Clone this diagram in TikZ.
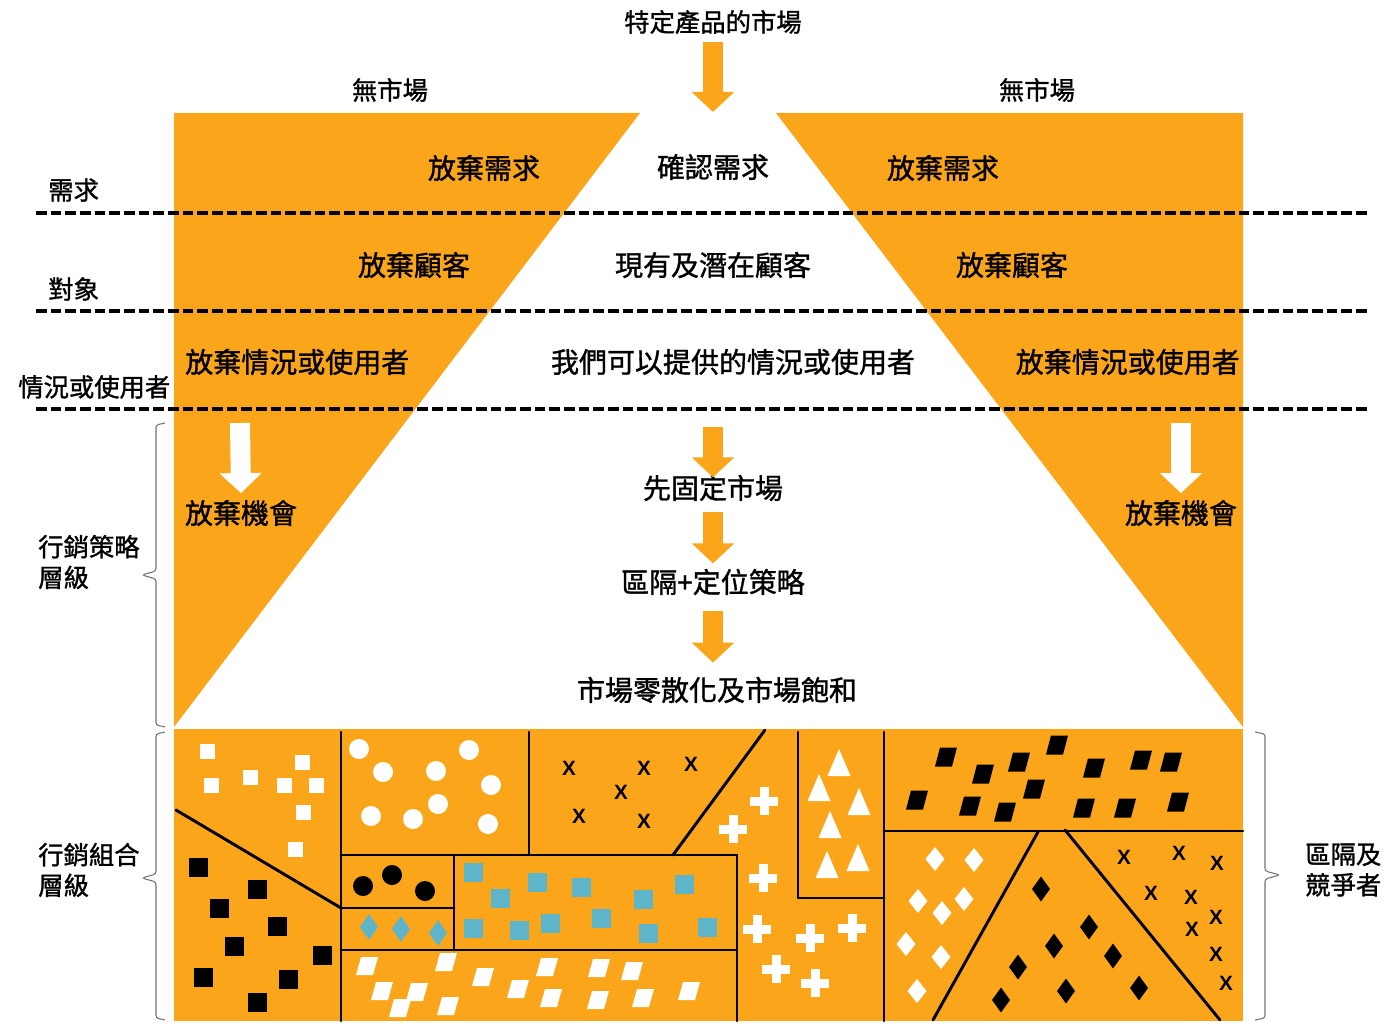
\documentclass[tikz,border=0pt]{standalone}
\usepackage{fontspec}
\setmainfont{Noto Sans CJK TC}[RawFeature={embolden=1.2}]
\newfontfamily\markfont{Liberation Sans}
\usetikzlibrary{arrows.meta,calc,positioning}
\definecolor{mkorange}{RGB}{251,166,26}
\definecolor{mkcyan}{RGB}{94,181,201}
\tikzset{lbl/.style={inner sep=0pt, font=\fontsize{21}{25}\selectfont}, side/.style={inner sep=0pt, font=\fontsize{19}{23}\selectfont, align=left}, zone/.style={fill=mkorange}, level/.style={line width=2.4pt, dash pattern=on 8pt off 3pt}, wall/.style={line width=2.2pt, line cap=round}, flow/.style={mkorange, line width=15pt, -{Triangle[width=31pt,length=15pt]}}, drop/.style={flow, white}, bracket/.style={black!55, line width=0.8pt, rounded corners=2pt}, xmark/.style={inner sep=0pt, font=\markfont\bfseries\fontsize{15.5}{15.5}\selectfont}}

\begin{document}
\begin{tikzpicture}[x=0.75pt,y=-0.75pt]
    \useasboundingbox (0,0) rectangle (1400,1024);
    % orange zones
    \fill[zone] (174,113) -- (640,113) -- (174,727) -- cycle;
    \fill[zone] (776,113) -- (1243,113) -- (1243,727) -- cycle;
    \fill[zone] (174,729) rectangle (1243,1021);
    \foreach \y in {213,311,409} \draw[level] (36,\y) -- (1368,\y);

    % top and row labels
    \node[side] (title) at (713,22) {特定產品的市場};
    \coordinate (apex) at (713,112);
    \draw[flow] ([yshift=-6pt]title.south) -- (apex);
    \node[side] (nm1) at (390,90) {無市場};
    \node[side] (nm2) at (1037,90) {無市場};
    \node[side,anchor=west] (need) at (48,190) {需求};
    \node[side,anchor=west] (who) at (48,289) {對象};
    \node[side,anchor=west] (use) at (18,387) {情況或使用者};

    \node[lbl] (dn1) at (484,168) {放棄需求};
    \node[lbl] (cn) at (713,167) {確認需求};
    \node[lbl] (dn2) at (943,168) {放棄需求};
    \node[lbl] (dc1) at (414,265) {放棄顧客};
    \node[lbl] (cc) at (713,265) {現有及潛在顧客};
    \node[lbl] (dc2) at (1012,265) {放棄顧客};
    \node[lbl,anchor=west] (du1) at (185,362) {放棄情況或使用者};
    \node[lbl] (cu) at (733,362) {我們可以提供的情況或使用者};
    \node[lbl,anchor=east] (du2) at (1240,362) {放棄情況或使用者};

    % strategy level
    \node[lbl] (do1) at (241,513) {放棄機會};
    \node[lbl] (do2) at (1181,513) {放棄機會};
    \coordinate (drop1) at (240,423);
    \coordinate (drop2) at (1181,423);
    \draw[drop] (drop1) -- ([yshift=5pt]do1.north);
    \draw[drop] (drop2) -- ([yshift=5pt]do2.north);
    \node[lbl] (fix) at (713,488) {先固定市場};
    \node[lbl] (seg) at (713,582) {區隔+定位策略};
    \node[lbl] (sat) at (717,690) {市場零散化及市場飽和};
    \coordinate (gate) at (713,427);
    \draw[flow] (gate) -- ([yshift=-2pt]fix.north);
    \draw[flow] ([yshift=-8pt]fix.south) -- ([yshift=4pt]seg.north);
    \draw[flow] ([yshift=-12pt]seg.south) -- ($(seg.south |- sat.north)+(0,-14)$);

    % braces
    \draw[bracket] (165,423) -- (156,425) -- (156,571) -- (142,575) -- (156,579) -- (156,725) -- (165,727);
    \draw[bracket] (165,732) -- (156,734) -- (156,874) -- (142,878) -- (156,882) -- (156,1018) -- (165,1020);
    \draw[bracket] (1255,732) -- (1265,734) -- (1265,871) -- (1280,875) -- (1265,879) -- (1265,1018) -- (1255,1020);
    \node[side,anchor=west] (strat) at (38,562) {行銷策略\\層級};
    \node[side,anchor=west] (mix) at (38,870) {行銷組合\\層級};
    \node[side,anchor=west] (rival) at (1305,870) {區隔及\\競爭者};

    % mix level: segment walls
    \draw[wall] (176,810) -- (341,908);
    \draw[wall] (341,732) -- (341,1021);
    \draw[wall] (529,732) -- (529,855);
    \draw[wall] (341,855) -- (737,855) -- (737,1021);
    \draw[wall] (765,730) -- (673,855);
    \draw[wall] (341,908) -- (454,908);
    \draw[wall] (454,855) -- (454,950);
    \draw[wall] (341,950) -- (737,950);
    \draw[wall] (798,732) -- (798,898) -- (884,898);
    \draw[wall] (884,732) -- (884,1021);
    \draw[wall] (884,831) -- (1243,831);
    \draw[wall] (1038,832) -- (933,1020);
    \draw[wall] (1065,830) -- (1220,1020);

    % mix level: customers
    \foreach \x/\y in {207/751,302/762,211/785,250/777,284/785,316/785,303/812,295/849}
        \fill[white] (\x-7.5,\y-7.5) rectangle (\x+7.5,\y+7.5);
    \foreach \x/\y in {198/867,257/889,219/908,277/926,234/946,322/955,203/977,288/979,257/1002}
        \fill[black] (\x-9.5,\y-9.5) rectangle (\x+9.5,\y+9.5);
    \foreach \x/\y in {359/749,469/750,383/772,436/771,491/785,438/804,371/816,413/819,488/824}
        \fill[white] (\x,\y) circle[radius=7.5pt];
    \foreach \x/\y in {363/886,392/875,425/891}
        \fill[black] (\x,\y) circle[radius=7.5pt];
    \foreach \x/\y in {369/927,401/929,438/933}
        \fill[mkcyan] (\x,\y-13) -- (\x+9,\y) -- (\x,\y+13) -- (\x-9,\y) -- cycle;
    \foreach \x/\y in {473/872,500/898,473/928,519/930,537/882,581/887,550/923,601/918,643/899,648/933,684/884,707/927}
        \fill[mkcyan] (\x-9.5,\y-9.5) rectangle (\x+9.5,\y+9.5);
    \foreach \x/\y in {367/966,446/962,382/991,417/992,400/1008,448/1006,483/977,518/989,547/967,599/968,632/971,551/998,598/1000,643/998,689/991}
        \fill[white] (\x-11,\y+9) -- (\x+6,\y+9) -- (\x+11,\y-9) -- (\x-6,\y-9) -- cycle;
    \foreach \x/\y in {569/768,644/768,691/764,621/792,579/816,644/821}
        \node[xmark] (xa-\x) at (\x,\y) {X};
    \foreach \x/\y in {764/801,733/829,763/878,757/929,810/938,852/928,776/969,815/983} {
        \fill[white] (\x-14,\y-4.5) rectangle (\x+14,\y+4.5);
        \fill[white] (\x-4.5,\y-14) rectangle (\x+4.5,\y+14);
    }
    \foreach \x/\y in {839/763,819/788,859/802,830/825,827/865,858/858}
        \fill[white] (\x,\y-14) -- (\x+11.5,\y+13) -- (\x-11.5,\y+13) -- cycle;
    \foreach \x/\y in {946/757,1057/745,983/774,1019/762,1094/768,1141/760,1171/762,917/800,970/806,1034/789,1005/812,1084/808,1125/808,1178/802}
        \fill[black] (\x-11,\y+9.5) -- (\x+6,\y+9.5) -- (\x+11,\y-9.5) -- (\x-6,\y-9.5) -- cycle;
    \foreach \x/\y in {935/859,974/860,918/901,964/899,942/913,906/944,941/957,917/991}
        \fill[white] (\x,\y-12) -- (\x+9.5,\y) -- (\x,\y+12) -- (\x-9.5,\y) -- cycle;
    \foreach \x/\y in {1041/889,1089/927,1054/946,1113/956,1018/967,1066/991,1001/1000,1139/988}
        \fill[black] (\x,\y-12.5) -- (\x+9,\y) -- (\x,\y+12.5) -- (\x-9,\y) -- cycle;
    \foreach \x/\y in {1124/857,1179/853,1217/863,1151/893,1191/897,1216/917,1192/929,1216/954,1226/983}
        \node[xmark] (xb-\x-\y) at (\x,\y) {X};
\end{tikzpicture}
\end{document}
